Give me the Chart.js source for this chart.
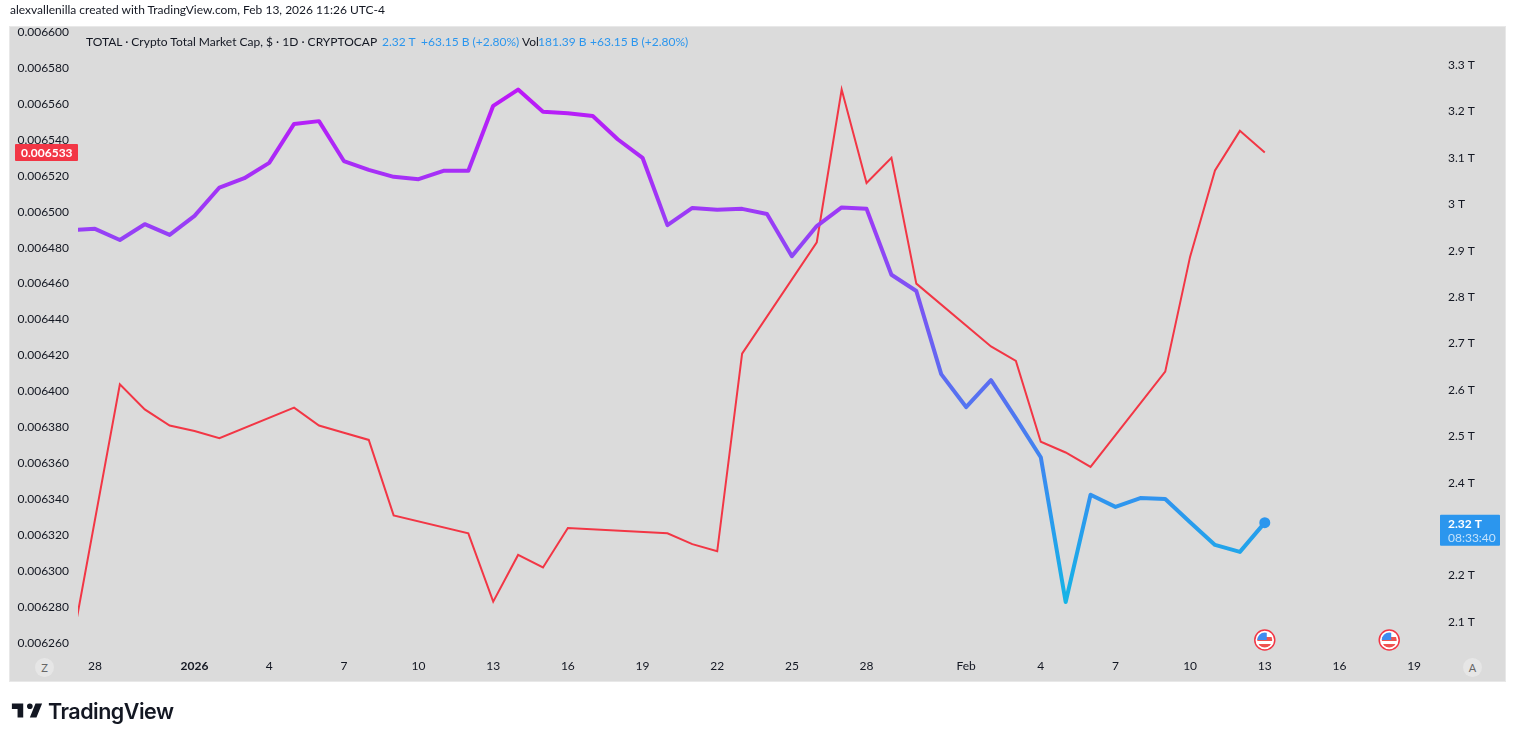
<!DOCTYPE html>
<html>
<head>
<meta charset="utf-8">
<script src="https://cdn.jsdelivr.net/npm/chart.js@4"></script>
<style>
html,body{margin:0;padding:0;background:#fff;width:1515px;height:741px;overflow:hidden}
body{position:relative;font-family:Lato,"Open Sans",sans-serif;font-size:12px;color:#131722}
#pane{position:absolute;left:9px;top:26px;width:1495px;height:654px;background:#dbdbdb;border:1px solid #e8e8e8}
canvas{position:absolute;left:0;top:0}
.t{position:absolute;white-space:nowrap;line-height:14px}
.b{color:#2b96ee}
.btn{position:absolute;width:19px;height:19px;border-radius:50%;background:#e6e6e6;color:#666;font-size:11px;line-height:19px;text-align:center}
#logoText{position:absolute;left:48px;top:697px;font:600 21.5px/28px Inter,sans-serif;color:#131722;letter-spacing:-.5px}
#logo{position:absolute;left:10px;top:697px}
</style>
</head>
<body>
<div id="pane"></div>
<canvas id="c" width="1515" height="741"></canvas>
<div class="t" style="left:10px;top:3px">alexvallenilla created with TradingView.com, Feb 13, 2026 11:26 UTC-4</div>
<div class="t" style="left:86px;top:35px">TOTAL · Crypto Total Market Cap, $ · 1D · CRYPTOCAP</div>
<div class="t b" style="left:382px;top:35px">2.32 T</div>
<div class="t b" style="left:421px;top:35px">+63.15 B (+2.80%)</div>
<div class="t" style="left:522px;top:35px">Vol</div>
<div class="t b" style="left:538px;top:35px">181.39 B</div>
<div class="t b" style="left:590px;top:35px">+63.15 B (+2.80%)</div>
<div class="btn" style="left:35px;top:658px">Z</div>
<div class="btn" style="left:1463px;top:658px">A</div>
<svg id="logo" width="34" height="28" viewBox="0 0 36 28"><path fill="#131722" d="M14 6H2v6h6v9h6V6zm14 15h-7l6-15h7l-6 15zm-7-9a3 3 0 1 0 0-6 3 3 0 0 0 0 6z"/></svg>
<div id="logoText">TradingView</div>
<script>
// One entry per calendar day, Dec 26 2025 .. Feb 13 2026
const dates = ["Dec 26","Dec 27","Dec 28","Dec 29","Dec 30","Dec 31",
"Jan 1","Jan 2","Jan 3","Jan 4","Jan 5","Jan 6","Jan 7","Jan 8","Jan 9","Jan 10","Jan 11","Jan 12","Jan 13","Jan 14","Jan 15","Jan 16","Jan 17","Jan 18","Jan 19","Jan 20","Jan 21","Jan 22","Jan 23","Jan 24","Jan 25","Jan 26","Jan 27","Jan 28","Jan 29","Jan 30","Jan 31",
"Feb 1","Feb 2","Feb 3","Feb 4","Feb 5","Feb 6","Feb 7","Feb 8","Feb 9","Feb 10","Feb 11","Feb 12","Feb 13"];

// TOTAL, trillions of USD (right axis)
const totalMarketCap = [null,2.944,2.947,2.923,2.957,2.934,
2.975,3.036,3.056,3.089,3.173,3.179,3.093,3.074,3.059,3.054,3.072,3.072,3.212,3.247,3.199,3.196,3.190,3.140,3.100,2.955,2.992,2.988,2.990,2.979,2.888,2.953,2.993,2.990,2.848,2.813,2.634,
2.563,2.621,2.539,2.455,2.143,2.374,2.348,2.367,2.365,2.315,2.266,2.251,2.314];

// Ratio series (left axis); no values on weekends and market holidays
const ratioSeries = [0.006385,null,null,0.006404,0.006390,0.006381,
0.006378,0.006374,null,null,0.006391,0.006381,0.006377,0.006373,0.006331,null,null,0.006321,0.006283,0.006309,0.006302,0.006324,null,null,null,0.006321,0.006315,0.006311,0.006421,null,null,0.006483,0.006568,0.006516,0.006530,0.006460,null,
null,0.006425,0.006417,0.006372,0.006366,0.006358,null,null,0.006411,0.006475,0.006523,0.006545,0.006533];

const leftTicks = [0.00626,0.00628,0.0063,0.00632,0.00634,0.00636,0.00638,0.0064,0.00642,0.00644,0.00646,0.00648,0.0065,0.00652,0.00654,0.00656,0.00658,0.0066];
const rightTicks = [2.1,2.2,2.3,2.4,2.5,2.6,2.7,2.8,2.9,3,3.1,3.2,3.3];
const xTickDates = ["Dec 28","Jan 1","Jan 4","Jan 7","Jan 10","Jan 13","Jan 16","Jan 19","Jan 22","Jan 25","Jan 28","Feb 1","Feb 4","Feb 7","Feb 10","Feb 13","Feb 16","Feb 19"];
const xTickLabels = ["28","2026","4","7","10","13","16","19","22","25","28","Feb","4","7","10","13","16","19"];
const xTickIndex = [2,6,9,12,15,18,21,24,27,30,33,37,40,43,46,49,52,55];
const flagDays = [49,54];
const lastRatioLabel = "0.006533", lastTotalLabel = "2.32\u202fT", countdownLabel = "08:33:40";

const FONT = 'Lato, "Open Sans", sans-serif';
const toPts = a => a.map((y,x)=>({x,y}));

function lineGradient(ctx){
  const g = ctx.createLinearGradient(0,89,0,602);
  g.addColorStop(0,'#bd17f8');
  g.addColorStop(0.275,'#973ff6');
  g.addColorStop(0.56,'#5e6bf1');
  g.addColorStop(0.72,'#3f85f0');
  g.addColorStop(0.82,'#2c98ee');
  g.addColorStop(1,'#14b4e6');
  return g;
}

function tag(ctx,x,y,w,h,color){ctx.fillStyle=color;ctx.beginPath();ctx.roundRect(x,y,w,h,1);ctx.fill();}

const overlay = {
  id:'overlay',
  afterDraw(chart){
    const {ctx,scales:{x,yL,yR}} = chart;
    ctx.save();
    ctx.textBaseline='middle';ctx.textAlign='left';
    // last-value tags
    const ry = yL.getPixelForValue(ratioSeries[ratioSeries.length-1]);
    tag(ctx,15,ry-8.5,63,17,'#f23645');
    ctx.fillStyle='#fff';ctx.font='bold 12px '+FONT;
    ctx.fillText(lastRatioLabel,21,ry+0.5);
    const by = yR.getPixelForValue(totalMarketCap[totalMarketCap.length-1]);
    tag(ctx,1440,by-8,60,31,'#2b96ee');
    ctx.fillStyle='#fff';ctx.font='bold 12px '+FONT;
    ctx.fillText(lastTotalLabel,1448,by+1.5);
    ctx.fillStyle='#c4e2fb';ctx.font='12px '+FONT;
    ctx.fillText(countdownLabel,1448,by+15);
    // US flag markers
    const fy = chart.chartArea.bottom-15;
    flagDays.forEach(d=>{
      const fx = x.getPixelForValue(d), r=10;
      ctx.beginPath();ctx.arc(fx,fy,r,0,Math.PI*2);ctx.fillStyle='#fff';ctx.fill();
      ctx.lineWidth=1.5;ctx.strokeStyle='#f23645';ctx.stroke();
      ctx.save();ctx.beginPath();ctx.arc(fx,fy,r-2.5,0,Math.PI*2);ctx.clip();
      ctx.fillStyle='#ef5350';ctx.fillRect(fx-8,fy-3,16,4);ctx.fillRect(fx-8,fy+4,16,5);
      ctx.fillStyle='#3f8cf0';ctx.fillRect(fx-8,fy-8,10,8);
      ctx.restore();
    });
    ctx.restore();
  }
};

new Chart(document.getElementById('c'),{
  type:'line',
  data:{labels:dates,datasets:[
    {label:'TOTAL',data:toPts(totalMarketCap),yAxisID:'yR',xAxisID:'x',borderWidth:4,tension:0,spanGaps:true,borderJoinStyle:'round',
     borderColor:c=>lineGradient(c.chart.ctx),
     pointRadius:c=>c.dataIndex===totalMarketCap.length-1?5.5:0,pointHoverRadius:0,pointBorderWidth:0,pointBackgroundColor:'#2b96ee'},
    {label:'Ratio',data:toPts(ratioSeries),yAxisID:'yL',xAxisID:'x',borderWidth:2,tension:0,spanGaps:true,borderColor:'#f23645',pointRadius:0}
  ]},
  plugins:[overlay],
  options:{
    responsive:false,animation:false,devicePixelRatio:1,
    layout:{padding:{top:27,bottom:60,left:0,right:0}},
    plugins:{legend:{display:false},tooltip:{enabled:false}},
    scales:{
      x:{type:'linear',min:1.318,max:56.04,border:{display:false},grid:{display:false,drawTicks:false},
         afterBuildTicks:s=>{s.ticks=xTickIndex.map(value=>({value}));},
         afterFit:s=>{s.height=26;},
         ticks:{autoSkip:false,maxRotation:0,padding:4,color:'#131722',
           font:c=>({family:FONT,size:12,weight:xTickLabels[xTickIndex.indexOf(c.tick&&c.tick.value)]==='2026'?'bold':'normal'}),
           callback:v=>xTickLabels[xTickIndex.indexOf(v)]}},
      yL:{position:'left',min:0.0062533,max:0.0066028,border:{display:false},grid:{display:false,drawTicks:false},
         afterBuildTicks:s=>{s.ticks=leftTicks.map(value=>({value}));},
         afterFit:s=>{s.width=78;},
         ticks:{autoSkip:false,padding:9,color:'#131722',font:{family:FONT,size:12},callback:v=>v.toFixed(6)}},
      yR:{position:'right',min:2.0289,max:3.3818,border:{display:false},grid:{display:false,drawTicks:false},
         afterBuildTicks:s=>{s.ticks=rightTicks.map(value=>({value}));},
         afterFit:s=>{s.width=75;},
         ticks:{autoSkip:false,padding:8,color:'#131722',font:{family:FONT,size:12},callback:v=>v+'\u202fT'}}
    }
  }
});
</script>
</body>
</html>
